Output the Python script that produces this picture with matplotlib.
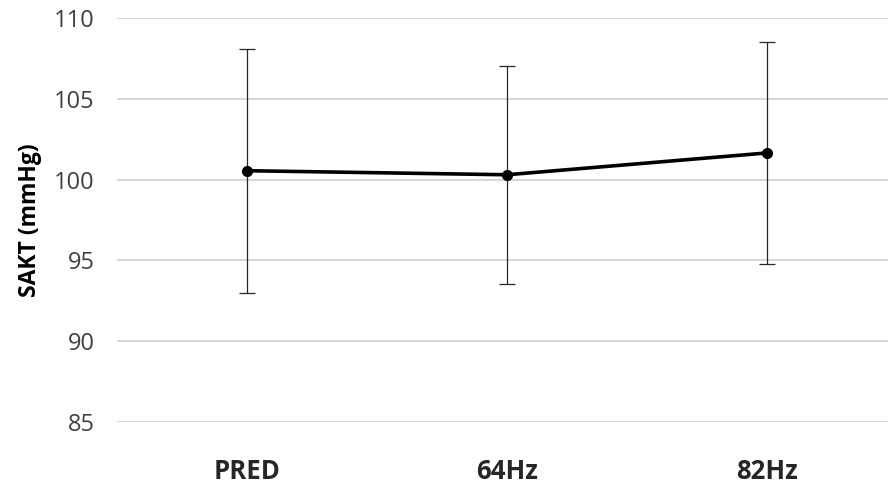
import matplotlib.pyplot as plt

# ============================= Data ===============================
categories = ['PRED', '64Hz', '82Hz']
sakt_mean = [100.55, 100.3, 101.65]
sakt_err = [7.55, 6.75, 6.85]
y_ticks = [85, 90, 95, 100, 105, 110]

plt.rcParams['font.family'] = ['Open Sans', 'DejaVu Sans']

fig = plt.figure(figsize=(8.88, 4.84), dpi=100)
ax = fig.add_axes([117 / 888, 1 - 422 / 484, 1 - 117 / 888, (422 - 18) / 484])

x = list(range(len(categories)))

# error bars first, then the line on top
ax.errorbar(x, sakt_mean, yerr=sakt_err, fmt='none', ecolor='#262626',
            elinewidth=0.9, capsize=6, capthick=0.9, zorder=3)
ax.plot(x, sakt_mean, color='black', linewidth=2.6, marker='o',
        markersize=7, zorder=4)

ax.set_xlim(-0.5, 2.465)
ax.set_ylim(85, 110)
ax.set_yticks(y_ticks)
ax.set_xticks(x)
ax.set_xticklabels(categories, fontsize=18.5, fontweight='bold', color='#262626')
ax.tick_params(axis='y', labelsize=17, labelcolor='#404040', length=0, pad=16)
ax.tick_params(axis='x', length=0, pad=26)

ax.set_ylabel('SAKT (mmHg)', fontsize=16.5, fontweight='bold', color='black', labelpad=9)

ax.grid(axis='y', color='#d0d0d0', linewidth=1.2)
ax.set_axisbelow(True)
for s in ax.spines.values():
    s.set_visible(False)

fig.savefig('out.png', dpi=100)
